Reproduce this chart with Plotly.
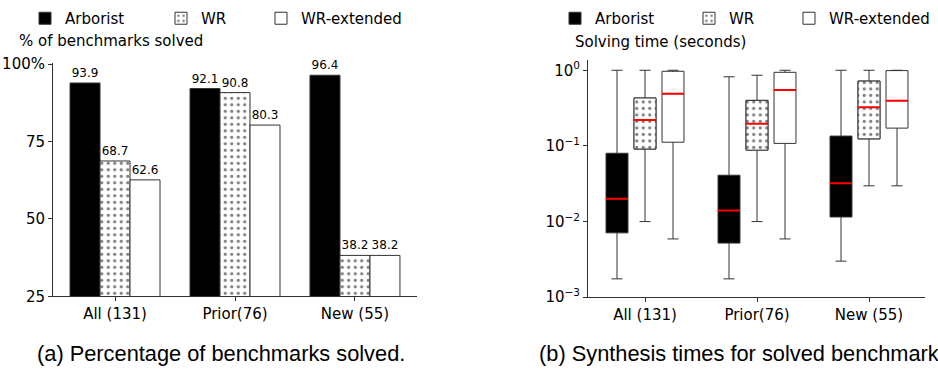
import plotly.graph_objects as go

# ---------------- data ----------------
categories = ["All (131)", "Prior(76)", "New (55)"]
series_names = ["Arborist", "WR", "WR-extended"]

# (a) percentage of benchmarks solved
solved_arborist = [93.9, 92.1, 96.4]
solved_wr = [68.7, 90.8, 38.2]
solved_wrext = [62.6, 80.3, 38.2]

# (b) solving time box statistics (seconds)
arb_low = [0.00175, 0.00175, 0.0030]
arb_q1 = [0.0071, 0.0052, 0.0115]
arb_med = [0.020, 0.014, 0.032]
arb_q3 = [0.080, 0.041, 0.135]
arb_high = [1.0, 0.82, 1.0]

wr_low = [0.010, 0.010, 0.0297]
wr_q1 = [0.091, 0.088, 0.124]
wr_med = [0.22, 0.197, 0.324]
wr_q3 = [0.43, 0.40, 0.72]
wr_high = [1.0, 0.86, 1.0]

wrx_low = [0.0059, 0.0059, 0.0297]
wrx_q1 = [0.112, 0.108, 0.172]
wrx_med = [0.49, 0.55, 0.397]
wrx_q3 = [0.97, 0.94, 0.99]
wrx_high = [1.0, 1.0, 1.0]

# ---------------- styling ----------------
W, H = 938, 380
FONT = "DejaVu Sans"
LINE = "#333333"
DOTS = dict(shape=".", fgcolor="black", bgcolor="white", size=6.5, solidity=0.2)
NO_PAT = dict(shape="")
fills = ["black", "white", "white"]
patterns = [NO_PAT, DOTS, NO_PAT]

fig = go.Figure()

# ---------------- (a) bars ----------------
bar_vals = [solved_arborist, solved_wr, solved_wrext]
for i, (name, vals) in enumerate(zip(series_names, bar_vals)):
    fig.add_trace(go.Bar(
        x=categories, y=vals, name=name,
        marker=dict(color=fills[i], line=dict(color=LINE, width=1), pattern=patterns[i]),
        text=vals, texttemplate="%{y:.1f}", textposition="outside",
        textfont=dict(family=FONT, size=12, color="black"),
        constraintext="none", cliponaxis=False,
        xaxis="x", yaxis="y", legend="legend" if i == 0 else f"legend{i + 1}",
        hoverinfo="skip",
    ))

# ---------------- (b) boxes ----------------
offsets = [-0.25, 0.0, 0.25]
box_w = 0.196
stats = [
    (arb_low, arb_q1, arb_med, arb_q3, arb_high),
    (wr_low, wr_q1, wr_med, wr_q3, wr_high),
    (wrx_low, wrx_q1, wrx_med, wrx_q3, wrx_high),
]
for i, (lo, q1, med, q3, hi) in enumerate(stats):
    pos = [g + offsets[i] for g in range(len(categories))]
    fig.add_trace(go.Box(
        x=pos, q1=q1, median=med, q3=q3, lowerfence=lo, upperfence=hi,
        width=box_w, fillcolor=fills[i], line=dict(color=LINE, width=1),
        whiskerwidth=0.5, boxpoints=False, showlegend=False, hoverinfo="skip",
        xaxis="x2", yaxis="y2",
    ))
    if patterns[i].get("shape"):
        xs, ys = [], []
        for p, a, b in zip(pos, q1, q3):
            xs += [p - box_w / 2, p + box_w / 2, p + box_w / 2, p - box_w / 2, p - box_w / 2, None]
            ys += [a, a, b, b, a, None]
        fig.add_trace(go.Scatter(
            x=xs, y=ys, mode="lines", fill="toself", fillpattern=patterns[i],
            fillcolor="white", line=dict(color=LINE, width=1),
            showlegend=False, hoverinfo="skip", xaxis="x2", yaxis="y2",
        ))

# red median lines
for i, (lo, q1, med, q3, hi) in enumerate(stats):
    pos = [g + offsets[i] for g in range(len(categories))]
    xs, ys = [], []
    for p, m in zip(pos, med):
        xs += [p - box_w / 2, p + box_w / 2, None]
        ys += [m, m, None]
    fig.add_trace(go.Scatter(
        x=xs, y=ys, mode="lines", line=dict(color="red", width=2),
        showlegend=False, hoverinfo="skip", xaxis="x2", yaxis="y2",
    ))

# legend entries for (b)
for i, name in enumerate(series_names):
    fig.add_trace(go.Bar(
        x=[None], y=[None], name=name,
        marker=dict(color=fills[i], line=dict(color=LINE, width=1), pattern=patterns[i]),
        xaxis="x2", yaxis="y2", legend=f"legend{i + 4}", hoverinfo="skip",
    ))

# ---------------- layout ----------------
def px_x(v):
    return v / W

def px_y(v):
    return 1 - v / H

axis_common = dict(
    showline=True, linecolor=LINE, linewidth=1, ticks="outside", ticklen=4,
    tickcolor=LINE, tickwidth=1, showgrid=False, zeroline=False,
    tickfont=dict(family=FONT, size=15, color="black"),
)

legend_text_x = [68, 204, 304, 598, 732, 832]
legends = {}
for k, tx in enumerate(legend_text_x):
    key = "legend" if k == 0 else f"legend{k + 1}"
    legends[key] = dict(
        x=px_x(tx - 43), y=px_y(12), xanchor="left", yanchor="middle",
        orientation="h", bgcolor="rgba(0,0,0,0)", borderwidth=0,
        font=dict(family=FONT, size=15, color="black"), itemwidth=30,
    )

fig.update_layout(
    width=W, height=H, margin=dict(l=0, r=0, t=0, b=0),
    paper_bgcolor="white", plot_bgcolor="white",
    barmode="group", bargap=0.25, bargroupgap=0.0, boxmode="overlay",
    xaxis=dict(domain=[px_x(53), px_x(417)], anchor="y", type="category",
               range=[-0.517, 2.517], **axis_common),
    yaxis=dict(domain=[px_y(302), px_y(58)], anchor="x", range=[25, 100.5],
               tickvals=[25, 50, 75, 100], ticktext=["25", "50", "75", "100%"],
               **axis_common),
    xaxis2=dict(domain=[px_x(588), px_x(925)], anchor="y2", range=[-0.509, 2.5],
                tickvals=[0, 1, 2], ticktext=categories, **axis_common),
    yaxis2=dict(domain=[px_y(303), px_y(55)], anchor="x2", type="log",
                range=[-3, 0.14], tickvals=[0.001, 0.01, 0.1, 1],
                ticktext=["10<sup>−3</sup>", "10<sup>−2</sup>", "10<sup>−1</sup>", "10<sup>0</sup>"],
                **axis_common),
    **legends,
)

annotations = [
    dict(text="% of benchmarks solved", x=px_x(17), y=px_y(36), xanchor="left", yanchor="middle",
         font=dict(family=FONT, size=15, color="black")),
    dict(text="Solving time (seconds)", x=px_x(573), y=px_y(37), xanchor="left", yanchor="middle",
         font=dict(family=FONT, size=15, color="black")),
    dict(text="(a) Percentage of benchmarks solved.", x=px_x(35), y=px_y(362), xanchor="left",
         yanchor="middle", font=dict(family="Liberation Sans", size=21.8, color="black")),
    dict(text="(b) Synthesis times for solved benchmarks", x=px_x(537), y=px_y(362), xanchor="left",
         yanchor="middle", font=dict(family="Liberation Sans", size=21.8, color="black")),
]
for a in annotations:
    fig.add_annotation(xref="paper", yref="paper", showarrow=False, **a)

fig.write_html("out.html", post_script="document.body.style.margin='0';",
               config={"displayModeBar": False})
